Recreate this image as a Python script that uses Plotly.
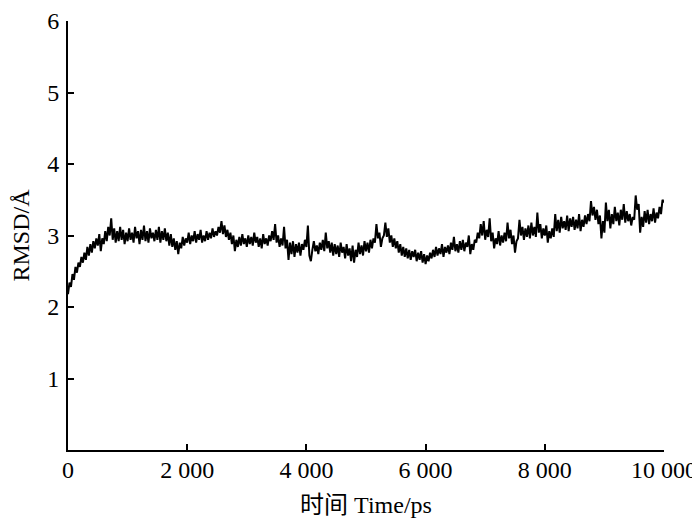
import plotly.graph_objects as go

time_ps = list(range(0, 10001, 25))
rmsd = [
    2.18, 2.34, 2.28, 2.46, 2.38, 2.56, 2.48, 2.62, 2.56, 2.70, 2.62, 2.76, 2.66, 2.84, 2.72, 2.88, 2.76, 2.92, 2.82, 2.96,
    2.86, 3.02, 2.78, 2.96, 2.88, 3.06, 2.92, 3.12, 3.00, 3.24, 2.94, 3.10, 2.90, 3.06, 2.92, 3.12, 2.94, 3.08, 2.88, 3.04,
    2.92, 3.10, 2.94, 3.04, 2.90, 3.12, 2.96, 3.06, 2.88, 3.08, 2.94, 3.14, 2.92, 3.06, 2.90, 3.10, 2.96, 3.04, 2.92, 3.08,
    2.94, 3.12, 2.90, 3.06, 2.94, 3.10, 2.92, 3.04, 2.86, 3.02, 2.84, 2.96, 2.80, 2.92, 2.74, 2.90, 2.82, 2.98, 2.86, 2.96,
    2.90, 3.04, 2.88, 3.00, 2.92, 3.06, 2.90, 3.02, 2.94, 3.08, 2.90, 3.00, 2.92, 3.06, 2.94, 3.04, 2.96, 3.10, 2.98, 3.06,
    3.00, 3.12, 3.04, 3.20, 3.02, 3.14, 2.98, 3.08, 2.94, 3.04, 2.88, 3.00, 2.78, 2.94, 2.84, 2.98, 2.86, 3.02, 2.88, 2.96,
    2.84, 3.00, 2.88, 2.98, 2.86, 3.04, 2.90, 2.98, 2.84, 2.96, 2.82, 3.02, 2.88, 2.96, 2.86, 3.00, 2.92, 3.06, 2.94, 3.16,
    2.90, 3.00, 2.84, 2.96, 2.86, 3.12, 2.82, 2.94, 2.66, 2.90, 2.74, 2.92, 2.70, 2.88, 2.76, 2.90, 2.72, 2.88, 2.80, 2.94,
    2.84, 3.14, 2.72, 2.64, 2.80, 2.92, 2.78, 2.86, 2.74, 2.90, 2.80, 2.94, 2.78, 3.04, 2.82, 2.92, 2.76, 2.90, 2.72, 2.88,
    2.74, 2.86, 2.70, 2.90, 2.76, 2.84, 2.68, 2.88, 2.72, 2.82, 2.64, 2.86, 2.62, 2.80, 2.70, 2.90, 2.74, 2.86, 2.72, 2.92,
    2.78, 2.90, 2.76, 2.94, 2.82, 2.96, 2.90, 3.16, 2.96, 3.04, 2.84, 2.96, 3.00, 3.18, 2.98, 3.10, 2.90, 3.00, 2.84, 2.96,
    2.82, 2.92, 2.76, 2.88, 2.72, 2.84, 2.70, 2.82, 2.68, 2.80, 2.66, 2.78, 2.70, 2.80, 2.64, 2.76, 2.66, 2.78, 2.62, 2.74,
    2.60, 2.72, 2.64, 2.76, 2.68, 2.80, 2.70, 2.84, 2.72, 2.82, 2.74, 2.88, 2.70, 2.84, 2.76, 2.86, 2.74, 2.90, 2.80, 2.98,
    2.78, 2.88, 2.76, 2.92, 2.80, 2.94, 2.78, 2.90, 2.84, 3.00, 2.74, 2.88, 2.80, 2.94, 2.90, 3.04, 2.96, 3.16, 3.00, 3.20,
    2.94, 3.08, 2.98, 3.24, 2.92, 3.04, 2.82, 2.96, 2.88, 3.06, 2.86, 3.00, 2.90, 3.04, 2.92, 3.18, 2.96, 3.08, 2.88, 3.00,
    2.76, 2.92, 2.96, 3.22, 3.00, 3.12, 2.94, 3.10, 2.98, 3.14, 2.96, 3.18, 3.00, 3.12, 2.98, 3.32, 3.04, 3.16, 2.96, 3.10,
    3.00, 3.14, 2.90, 3.06, 2.96, 3.10, 2.98, 3.30, 3.06, 3.22, 3.04, 3.26, 3.10, 3.20, 3.08, 3.28, 3.06, 3.24, 3.12, 3.26,
    3.08, 3.22, 3.10, 3.30, 3.06, 3.22, 3.12, 3.28, 3.16, 3.30, 3.20, 3.48, 3.28, 3.40, 3.22, 3.36, 3.16, 3.28, 2.96, 3.20,
    3.04, 3.46, 3.20, 3.36, 3.10, 3.30, 3.16, 3.40, 3.20, 3.32, 3.14, 3.36, 3.22, 3.44, 3.18, 3.34, 3.20, 3.30, 3.14, 3.26,
    3.22, 3.56, 3.36, 3.44, 3.04, 3.26, 3.12, 3.34, 3.18, 3.36, 3.16, 3.30, 3.20, 3.38, 3.18, 3.32, 3.24, 3.40, 3.30, 3.50,
    3.46,
]

x_ticks = [0, 2000, 4000, 6000, 8000, 10000]
x_tick_text = ["0", "2 000", "4 000", "6 000", "8 000", "10 000"]
y_ticks = [1, 2, 3, 4, 5, 6]

FONT = "Liberation Serif, Times New Roman, Noto Sans CJK SC, serif"

fig = go.Figure()
fig.add_trace(go.Scatter(
    x=time_ps,
    y=rmsd,
    mode='lines',
    line=dict(color='black', width=2),
    showlegend=False
))

axis_common = dict(
    showgrid=False,
    zeroline=False,
    showline=True,
    linecolor='black',
    linewidth=2,
    ticks='inside',
    ticklen=6,
    tickwidth=2,
    tickcolor='black',
    automargin=False,
    tickfont=dict(family=FONT, size=24, color='black'),
)

# page body adds an 8px margin, so the figure is a bit smaller than the window
fig.update_layout(
    width=692,
    height=519,
    margin=dict(l=60, r=36, t=13, b=77),
    paper_bgcolor='white',
    plot_bgcolor='white',
    font=dict(family=FONT, color='black'),
    xaxis=dict(
        range=[0, 10000],
        tickvals=x_ticks,
        ticktext=x_tick_text,
        ticklabelstandoff=-3,
        title=dict(text="时间 Time/ps", font=dict(family=FONT, size=24), standoff=14),
        **axis_common
    ),
    yaxis=dict(
        range=[0, 6],
        tickvals=y_ticks,
        ticklabelstandoff=2,
        title=dict(text="RMSD/Å", font=dict(family=FONT, size=24), standoff=16),
        **axis_common
    ),
)

fig.write_html("out.html")
